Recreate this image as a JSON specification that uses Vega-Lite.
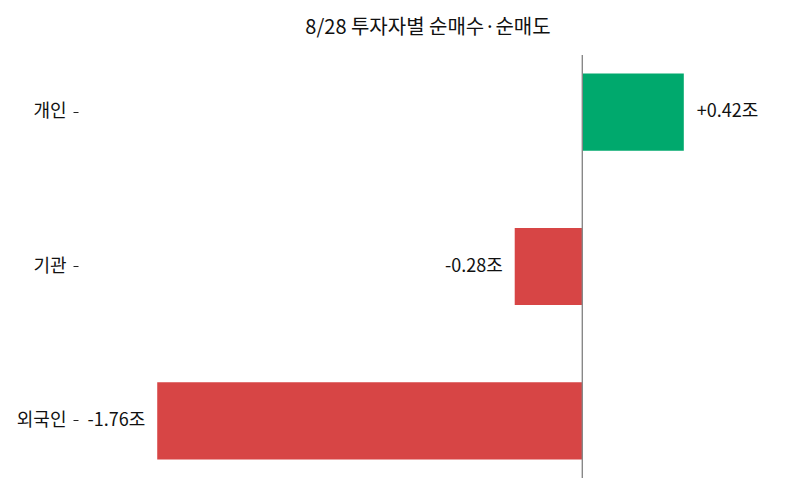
{
  "$schema": "https://vega.github.io/schema/vega-lite/v6.json",
  "autosize": "none",
  "padding": {"left": 78, "top": 55, "right": 14, "bottom": 17},
  "width": 700,
  "height": 423,
  "background": "white",
  "title": {
    "text": "8/28 투자자별 순매수·순매도",
    "font": "Noto Sans CJK KR",
    "fontSize": 20,
    "fontWeight": "normal",
    "color": "#111",
    "anchor": "middle",
    "offset": 17
  },
  "data": {
    "values": [
      {"investor": "개인", "value": 0.42, "label": "+0.42조"},
      {"investor": "기관", "value": -0.28, "label": "-0.28조"},
      {"investor": "외국인", "value": -1.76, "label": "-1.76조"}
    ]
  },
  "config": {
    "view": {"stroke": null},
    "font": "Noto Sans CJK KR"
  },
  "encoding": {
    "y": {
      "field": "investor",
      "type": "nominal",
      "sort": ["개인", "기관", "외국인"],
      "title": null,
      "scale": {"paddingInner": 0.5, "paddingOuter": 0.12},
      "axis": {
        "domain": false,
        "ticks": true,
        "tickSize": 5,
        "tickColor": "#222",
        "labelFontSize": 18,
        "labelColor": "#111",
        "labelPadding": 7,
        "labelFont": "Noto Sans CJK KR"
      }
    }
  },
  "layer": [
    {
      "mark": {"type": "bar"},
      "encoding": {
        "x": {
          "field": "value",
          "type": "quantitative",
          "scale": {"domain": [-2.088, 0.81], "nice": false, "zero": false},
          "axis": null
        },
        "color": {
          "condition": {"test": "datum.value >= 0", "value": "#00a96d"},
          "value": "#d74545"
        }
      }
    },
    {
      "mark": {"type": "rule", "color": "#888", "strokeWidth": 1},
      "encoding": {"x": {"datum": 0, "type": "quantitative"}, "y": null}
    },
    {
      "transform": [{"filter": "datum.value >= 0"}],
      "mark": {"type": "text", "align": "left", "dx": 13, "fontSize": 18, "color": "#111", "font": "Noto Sans CJK KR"},
      "encoding": {
        "x": {"field": "value", "type": "quantitative"},
        "text": {"field": "label"}
      }
    },
    {
      "transform": [{"filter": "datum.value < 0"}],
      "mark": {"type": "text", "align": "right", "dx": -12, "fontSize": 18, "color": "#111", "font": "Noto Sans CJK KR"},
      "encoding": {
        "x": {"field": "value", "type": "quantitative"},
        "text": {"field": "label"}
      }
    }
  ]
}
